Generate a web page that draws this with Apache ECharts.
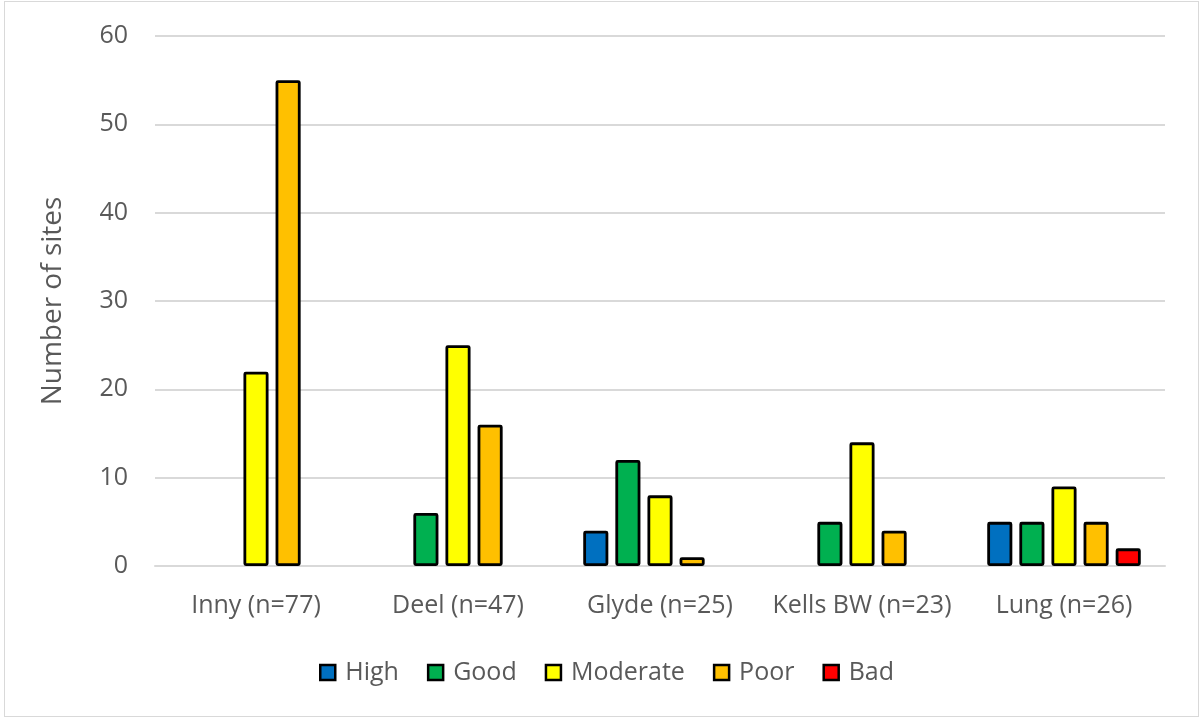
<!DOCTYPE html>
<html>
<head>
<meta charset="utf-8">
<script src="https://cdn.jsdelivr.net/npm/echarts@6/dist/echarts.min.js"></script>
<style>
html,body{margin:0;padding:0;background:#fff;}
#frame{position:absolute;left:4px;top:1px;width:1193px;height:714px;border:1.5px solid #d9d9d9;box-sizing:content-box;}
#chart{position:absolute;left:0;top:0;width:1203px;height:720px;}
</style>
</head>
<body>
<div id="frame"></div>
<div id="chart"></div>
<script>
const categories = ['Inny (n=77)', 'Deel (n=47)', 'Glyde (n=25)', 'Kells BW (n=23)', 'Lung (n=26)'];
const seriesNames = ['High', 'Good', 'Moderate', 'Poor', 'Bad'];
const highValues = [0, 0, 4, 0, 5];
const goodValues = [0, 6, 12, 5, 5];
const moderateValues = [22, 25, 8, 14, 9];
const poorValues = [55, 16, 1, 4, 5];
const badValues = [0, 0, 0, 0, 2];
const yTicks = [0, 10, 20, 30, 40, 50, 60];
const colors = ['#0070c0', '#00b050', '#ffff00', '#ffc000', '#ff0000'];

const allValues = [highValues, goodValues, moderateValues, poorValues, badValues];
const font = '"Open Sans", "Liberation Sans", sans-serif';
const textColor = '#595959';

const chart = echarts.init(document.getElementById('chart'), null, {renderer: 'canvas'});
chart.setOption({
  animation: false,
  color: colors,
  grid: {left: 155, right: 38, top: 36, bottom: 154, containLabel: false},
  legend: {
    data: seriesNames,
    top: 655,
    left: 314,
    itemWidth: 15,
    itemHeight: 15,
    itemGap: 28,
    icon: 'rect',
    textStyle: {fontFamily: font, fontSize: 25, color: textColor, padding: [0, 0, 0, 5]},
    itemStyle: {borderColor: '#000', borderWidth: 2.5}
  },
  xAxis: {
    type: 'category',
    data: categories,
    axisLine: {show: true, lineStyle: {color: '#d9d9d9', width: 2}},
    axisTick: {show: false},
    axisLabel: {fontFamily: font, fontSize: 25, color: textColor, margin: 27, interval: 0}
  },
  yAxis: {
    type: 'value',
    min: 0,
    max: 60,
    interval: 10,
    name: 'Number of sites',
    nameLocation: 'middle',
    nameGap: 88,
    nameTextStyle: {fontFamily: font, fontSize: 28, color: textColor},
    axisLine: {show: false},
    axisTick: {show: false},
    axisLabel: {fontFamily: font, fontSize: 25, color: textColor, margin: 27,
      formatter: v => yTicks.includes(v) ? String(v) : ''},
    splitLine: {lineStyle: {color: '#d9d9d9', width: 2}}
  },
  series: seriesNames.map((name, i) => ({
    name: name,
    type: 'bar',
    data: allValues[i].map(v => v === 0 ? null : v),
    barGap: '28%',
    barCategoryGap: '24%',
    itemStyle: {color: colors[i], borderColor: '#000', borderWidth: 2.8, borderRadius: 1}
  }))
});
</script>
</body>
</html>
